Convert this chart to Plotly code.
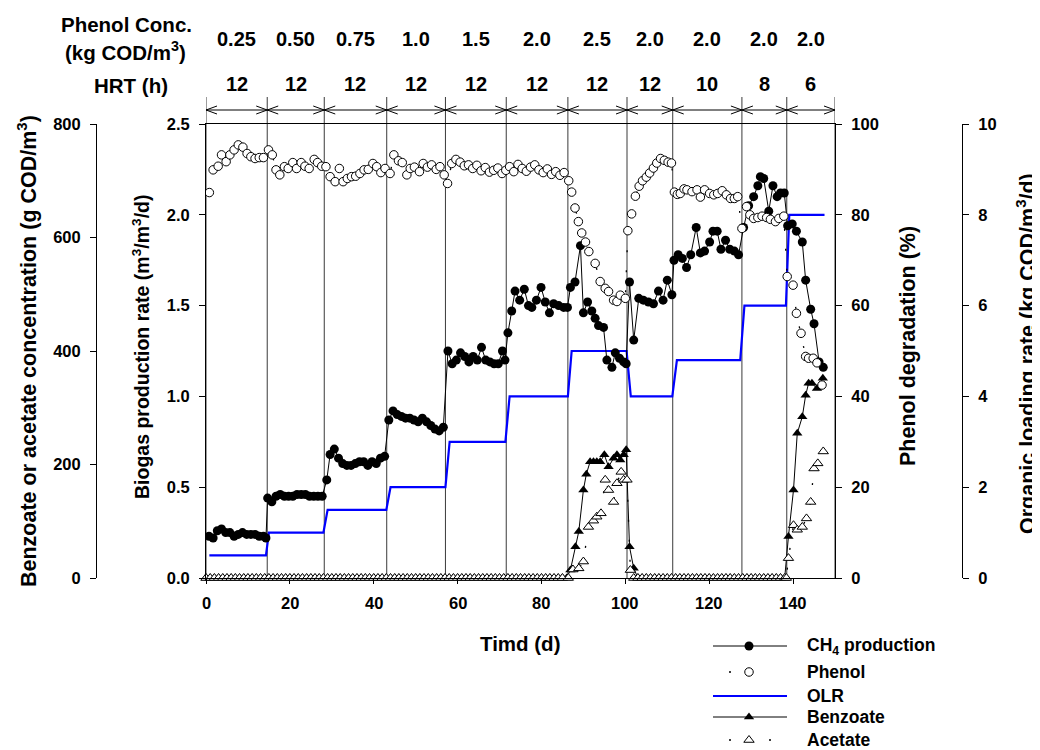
import plotly.graph_objects as go

# ---------------------------------------------------------------- data
phase_bounds = [0, 14.6, 28.2, 43.1, 57.1, 71.6, 86.3, 100.4, 111.3, 127.8, 138.5, 150]
phenol_conc_labels = ["0.25", "0.50", "0.75", "1.0", "1.5", "2.0", "2.5", "2.0", "2.0", "2.0", "2.0"]
hrt_labels = ["12", "12", "12", "12", "12", "12", "12", "12", "10", "8", "6"]
x_ticks = [0, 20, 40, 60, 80, 100, 120, 140]

# CH4 production rate (m3/m3/d)
ch4_days = [0.7, 1.7, 2.7, 3.7, 4.7, 5.7, 6.7, 7.7, 8.7, 9.7, 10.7, 11.7, 12.7, 13.7, 14.3,
            14.7, 15.7, 16.7, 17.7, 18.7, 19.7, 20.7, 21.7, 22.7, 23.7, 24.7, 25.7, 26.7, 27.7,
            28.8, 29.6, 30.6, 31.6, 32.6, 33.6, 34.6, 35.6, 36.6, 37.6, 38.6, 39.6, 40.6, 41.6, 42.6,
            43.6, 44.6, 45.6, 46.6, 47.6, 48.6, 49.6, 50.6, 51.6, 52.6, 53.6, 54.6, 55.6, 56.6,
            57.7, 58.7, 59.7, 60.7, 61.7, 62.7, 63.7, 64.7, 65.7, 66.7, 67.7, 68.7, 69.7, 70.7, 71.3,
            72.0, 72.9, 73.7, 74.8, 75.9, 76.9, 77.7, 78.8, 79.9, 80.9, 81.9, 82.9, 84.1, 85.3, 86.2,
            86.9, 88.0, 89.3, 90.0, 91.0, 92.0, 92.8, 93.6, 94.8, 95.6, 96.8, 97.6, 98.6, 99.6, 100.2,
            101.0, 102.0, 103.2, 104.3, 105.5, 106.7, 107.9, 109.0, 110.0, 111.1,
            111.6, 112.6, 113.6, 114.6, 115.6, 116.9, 117.9, 118.9, 120.1, 120.9, 121.9, 122.8, 123.9,
            124.9, 126.0, 127.0,
            128.2, 129.4, 130.6, 131.6, 132.2, 133.0, 134.2, 135.2, 136.2, 137.0, 137.9,
            138.7, 139.8, 140.8, 142.2, 143.0, 144.2, 145.0, 146.2, 147.2]
ch4_rate = [0.23, 0.22, 0.26, 0.27, 0.25, 0.25, 0.23, 0.24, 0.25, 0.24, 0.24, 0.24, 0.23, 0.23, 0.22,
            0.44, 0.42, 0.45, 0.46, 0.45, 0.45, 0.45, 0.46, 0.46, 0.46, 0.45, 0.45, 0.45, 0.45,
            0.54, 0.68, 0.71, 0.66, 0.63, 0.62, 0.62, 0.63, 0.64, 0.64, 0.62, 0.64, 0.63, 0.66, 0.67,
            0.87, 0.92, 0.90, 0.89, 0.88, 0.88, 0.87, 0.86, 0.88, 0.86, 0.84, 0.82, 0.81, 0.83,
            1.25, 1.18, 1.20, 1.24, 1.22, 1.19, 1.22, 1.20, 1.27, 1.20, 1.19, 1.18, 1.18, 1.25, 1.20,
            1.35, 1.47, 1.58, 1.53, 1.59, 1.50, 1.49, 1.53, 1.60, 1.52, 1.46, 1.51, 1.50, 1.49, 1.49,
            1.60, 1.63, 1.83, 1.46, 1.52, 1.47, 1.43, 1.39, 1.38, 1.20, 1.16, 1.24, 1.21, 1.19, 1.18,
            1.63, 1.31, 1.54, 1.53, 1.52, 1.51, 1.58, 1.53, 1.64, 1.56,
            1.75, 1.78, 1.76, 1.71, 1.78, 1.93, 1.79, 1.80, 1.85, 1.91, 1.91, 1.81, 1.86,
            1.81, 1.80, 1.78,
            1.93, 2.05, 2.10, 2.16, 2.21, 2.20, 2.02, 2.16, 2.10, 2.12, 2.12,
            1.94, 1.95, 1.91, 1.85, 1.64, 1.48, 1.40, 1.19, 1.16]

# Phenol degradation (%)
phenol_days = [0.8, 1.7, 2.9, 3.7, 4.8, 5.7, 6.7, 7.7, 8.8, 9.8, 10.7, 11.7, 12.7, 13.7, 14.9, 15.8,
               16.7, 17.6, 18.7, 19.6, 20.7, 21.6, 22.7, 23.6, 24.6, 25.8, 26.6, 27.6, 28.6,
               29.6, 30.8, 31.8, 32.7, 33.7, 34.7, 35.7, 36.7, 37.7, 38.7, 39.8, 40.7, 41.7, 42.7, 43.9,
               44.8, 45.9, 46.8, 47.9, 48.7, 49.7, 50.9, 51.8, 52.8, 53.8, 54.9, 55.8, 56.8, 57.6,
               58.6, 59.6, 60.6, 61.6, 62.6, 63.6, 64.6, 65.6, 66.6, 67.6, 68.6, 69.6, 70.6, 71.5,
               72.4, 73.4, 74.4, 75.4, 76.4, 77.4, 78.4, 79.4, 80.4, 81.4, 82.4, 83.4, 84.4, 85.4,
               86.5, 87.2, 88.0, 88.8, 89.6, 90.5, 91.3, 92.8, 94.0, 95.2, 96.0, 97.2, 98.0, 98.8, 100.0,
               100.6, 101.5, 102.4, 103.3, 104.1, 105.0, 105.8, 106.7, 107.5, 108.4, 109.3, 110.2, 111.0,
               111.7, 112.4, 113.1, 114.0, 114.7, 115.9, 117.1, 117.9, 118.9, 120.1, 121.1, 122.0,
               123.1, 124.1, 125.1, 126.0, 126.8, 127.8,
               128.9, 129.7, 130.6, 131.6, 132.6, 133.7, 134.6, 135.8, 136.6, 137.8,
               138.6, 140.0, 140.8, 141.9, 143.0, 143.7, 144.8, 145.7, 146.9]
phenol_pct = [84.9, 89.9, 90.7, 93.2, 91.7, 93.2, 94.3, 95.4, 94.9, 93.5, 92.8, 92.4, 92.6, 92.6, 94.3, 93.2,
              89.9, 88.8, 90.6, 90.2, 91.5, 90.2, 91.5, 90.7, 90.2, 92.2, 91.5, 90.7, 90.6,
              88.4, 87.3, 90.2, 87.3, 88.0, 88.4, 88.5, 89.1, 89.9, 90.0, 91.3, 90.6, 89.3, 90.2, 89.1,
              93.2, 91.9, 91.5, 88.8, 90.2, 90.5, 89.5, 91.3, 90.5, 91.0, 90.0, 90.6, 88.8, 86.9,
              91.3, 92.2, 91.6, 90.8, 91.0, 90.2, 90.9, 89.7, 90.4, 89.4, 89.8, 90.3, 89.1, 89.8,
              90.6, 89.5, 91.1, 90.2, 89.6, 90.5, 91.0, 89.9, 89.3, 90.1, 88.9, 89.5, 88.7, 89.3,
              87.5, 85.0, 81.5, 78.5, 76.0, 74.0, 71.9, 69.3, 65.3, 63.8, 63.1, 61.2, 60.9, 62.3, 61.6,
              76.5, 80.2, 84.1, 86.3, 87.5, 88.3, 89.2, 90.3, 91.4, 92.4, 92.0, 91.6, 91.4,
              85.0, 84.5, 84.7, 85.7, 85.5, 85.1, 85.5, 83.9, 85.5, 84.7, 84.4, 84.7,
              85.3, 84.4, 83.6, 83.6, 84.0, 77.0,
              81.8, 80.0, 79.2, 79.4, 79.7, 79.4, 79.0, 78.5, 79.2, 79.7,
              66.4, 64.5, 58.3, 53.9, 48.8, 48.4, 48.4, 47.4, 42.5]

# Organic loading rate (kg COD/m3/d)
olr_days = [0.8, 14.3, 15.0, 28.0, 29.0, 43.0, 44.0, 57.1, 58.1, 71.4, 72.4, 86.3, 87.2, 100.3,
            101.3, 111.2, 112.3, 127.4, 128.4, 138.3, 139.1, 147.5]
olr_vals = [0.5, 0.5, 1.0, 1.0, 1.5, 1.5, 2.0, 2.0, 3.0, 3.0, 4.0, 4.0, 5.0, 5.0,
            4.0, 4.0, 4.8, 4.8, 6.0, 6.0, 8.0, 8.0]

# Benzoate (g COD/m3): zero on every sampling day of the runs shown by the hatched strip
benz_days = (list(range(0, 87))
             + [86.9, 88.1, 88.9, 90.0, 90.7, 91.6, 92.4, 93.2, 94.0, 95.0, 96.0, 97.2, 98.0, 98.8,
                99.6, 100.2, 101.0, 102.0]
             + list(range(103, 139))
             + [138.9, 140.1, 141.0, 142.2, 143.0, 143.7, 144.5, 145.7, 147.1])
benz_vals = ([0] * 87
             + [14, 55, 82, 155, 183, 205, 205, 205, 205, 217, 196, 211, 217, 208, 217, 226, 55, 17]
             + [0] * 36
             + [73, 155, 255, 284, 322, 343, 343, 334, 352])

# Acetate (g COD/m3)
acet_days = (list(range(0, 86)) + [86.4]
             + [87.5, 88.9, 90.0, 91.2, 92.4, 93.2, 94.2, 95.2, 96.0, 97.2, 98.0, 99.0, 99.6, 100.4, 101.2]
             + list(range(102, 139)) + [138.4]
             + [138.9, 140.1, 141.0, 142.2, 143.2, 144.2, 145.0, 145.9, 147.2])
acet_vals = ([0] * 86 + [0]
             + [15, 17, 29, 90, 101, 108, 114, 173, 155, 134, 167, 187, 173, 173, 14]
             + [0] * 37 + [0]
             + [35, 93, 85, 90, 105, 134, 193, 202, 223])

# ---------------------------------------------------------------- layout helpers
# The page body has an 8 px margin, so the figure is 1032 x 742 and every
# layout position below is given in window pixels and converted here.
OFF = 8
W, H = 1032, 742
def fx(px):
    return (px - OFF) / W
def fy(py):
    return (H + OFF - py) / H

PL, PR, PT, PB = 206, 835, 124, 578
DOM_X = [fx(PL), fx(PR)]
DOM_Y = [fy(PB), fy(PT)]
FAM = "Liberation Sans, Arial, Helvetica, sans-serif"
TICKFONT = dict(family=FAM, size=16.5, color="black", weight="bold")

def yax(**kw):
    d = dict(domain=DOM_Y, showline=True, linecolor="black", linewidth=1, ticks="outside",
             ticklen=6, tickwidth=1, tickcolor="black", showgrid=False, zeroline=False,
             tickfont=TICKFONT, fixedrange=True, automargin=False, ticklabelstandoff=6)
    d.update(kw)
    return d

fig = go.Figure()

# OLR (base axis, drawn first)
fig.add_trace(go.Scatter(x=olr_days, y=olr_vals, yaxis="y", mode="lines",
                         line=dict(color="#0000ff", width=2.2), showlegend=False))
# CH4
fig.add_trace(go.Scatter(x=ch4_days, y=ch4_rate, yaxis="y2", mode="lines+markers",
                         line=dict(color="black", width=1),
                         marker=dict(symbol="circle", size=9, color="black"), showlegend=False))
# Benzoate
fig.add_trace(go.Scatter(x=benz_days, y=benz_vals, yaxis="y3", mode="lines+markers",
                         line=dict(color="black", width=1), cliponaxis=False,
                         marker=dict(symbol="triangle-up", size=9, color="black"), showlegend=False))
# Acetate
fig.add_trace(go.Scatter(x=acet_days, y=acet_vals, yaxis="y3", mode="lines+markers",
                         line=dict(color="black", width=1.3, dash="2px,18px"), cliponaxis=False,
                         marker=dict(symbol="triangle-up", size=9, color="white",
                                     line=dict(color="black", width=1)), showlegend=False))
# Phenol
fig.add_trace(go.Scatter(x=phenol_days, y=phenol_pct, yaxis="y4", mode="lines+markers",
                         line=dict(color="black", width=1.3, dash="2px,18px"),
                         marker=dict(symbol="circle", size=8.5, color="white",
                                     line=dict(color="black", width=1)), showlegend=False))

# ---------------------------------------------------------------- manual legend
LEG_X0, LEG_XM, LEG_X1, LEG_TX = 713, 749, 787, 805
legend_items = [
    dict(text="CH<sub>4</sub> production", y=646, line=dict(color="black", width=1), span=(LEG_X0, LEG_X1),
         marker=dict(symbol="circle", size=9, color="black")),
    dict(text="Phenol", y=672, line=dict(color="black", width=1.3, dash="2px,18px"), span=(729, 752),
         marker=dict(symbol="circle", size=8.5, color="white", line=dict(color="black", width=1))),
    dict(text="OLR", y=696, line=dict(color="#0000ff", width=2.2), span=(LEG_X0, LEG_X1), marker=None),
    dict(text="Benzoate", y=717, line=dict(color="black", width=1), span=(LEG_X0, LEG_X1),
         marker=dict(symbol="triangle-up", size=9, color="black")),
    dict(text="Acetate", y=740, line=dict(color="black", width=1.3, dash="2px,18px"), span=(729, 772),
         marker=dict(symbol="triangle-up", size=9, color="white", line=dict(color="black", width=1))),
]
annotations = []
for it in legend_items:
    fig.add_trace(go.Scatter(x=list(it["span"]), y=[it["y"], it["y"]], xaxis="x2", yaxis="y5",
                             mode="lines", line=it["line"], showlegend=False, hoverinfo="skip"))
    if it["marker"] is not None:
        fig.add_trace(go.Scatter(x=[LEG_XM], y=[it["y"]], xaxis="x2", yaxis="y5", mode="markers",
                                 marker=it["marker"], showlegend=False, hoverinfo="skip"))
    annotations.append(dict(text=it["text"], x=fx(LEG_TX), y=fy(it["y"]), xref="paper", yref="paper",
                            xanchor="left", yanchor="middle", showarrow=False,
                            font=dict(family=FAM, size=17.5, color="black", weight="bold")))

# ---------------------------------------------------------------- text labels
def txt(text, px, py, size, angle=0, xanchor="center"):
    return dict(text=text, x=fx(px), y=fy(py), xref="paper", yref="paper", xanchor=xanchor,
                yanchor="middle", showarrow=False, textangle=angle,
                font=dict(family=FAM, size=size, color="black", weight="bold"))

annotations += [
    txt("Phenol Conc.", 126, 24, 20.5),
    txt("(kg COD/m<sup>3</sup>)", 125, 51, 20.5),
    txt("HRT (h)", 131, 86, 20.5),
    txt("Timd (d)", 520, 643, 20.5),
    txt("Biogas production rate (m<sup>3</sup>/m<sup>3</sup>/d)", 141, 347, 19.5, -90),
    txt("Benzoate or acetate concentration (g COD/m<sup>3</sup>)", 27, 351, 21.5, -90),
    txt("Phenol degradation (%)", 908, 346, 21.5, -90),
    txt("Organic loading rate (kg COD/m<sup>3</sup>/d)", 1026, 354, 21.5, -90),
]
# x tick labels, placed at the tick values
for t in x_ticks:
    annotations.append(dict(text=str(t), x=t, y=fy(603), xref="x", yref="paper", xanchor="center",
                            yanchor="middle", showarrow=False, font=TICKFONT))
for i, (c, h) in enumerate(zip(phenol_conc_labels, hrt_labels)):
    mid = (phase_bounds[i] + phase_bounds[i + 1]) / 2
    for lab, py in ((c, 39), (h, 84)):
        annotations.append(dict(text=lab, x=mid, y=fy(py), xref="x", yref="paper", xanchor="center",
                                yanchor="middle", showarrow=False,
                                font=dict(family=FAM, size=20, color="black", weight="bold")))

# ---------------------------------------------------------------- phase separators & arrows
shapes = []
ARROW_Y = fy(110)
SEP_TOP = fy(97)
shapes.append(dict(type="line", xref="x", yref="paper", x0=phase_bounds[0], x1=phase_bounds[-1],
                   y0=ARROW_Y, y1=ARROW_Y, line=dict(color="black", width=1)))
for j, b in enumerate(phase_bounds):
    shapes.append(dict(type="line", xref="x", yref="paper", x0=b, x1=b, y0=fy(PB), y1=SEP_TOP,
                       line=dict(color="#3a3a3a", width=1), layer="below"))
    if j > 0:   # arrow head of the previous phase, pointing right
        shapes.append(dict(type="path", xref="x", yref="paper", xsizemode="pixel", ysizemode="pixel",
                           xanchor=b, yanchor=ARROW_Y, path="M-11,4 L0,0 L-11,-4",
                           line=dict(color="black", width=1)))
    if j < len(phase_bounds) - 1:   # arrow head of the next phase, pointing left
        shapes.append(dict(type="path", xref="x", yref="paper", xsizemode="pixel", ysizemode="pixel",
                           xanchor=b, yanchor=ARROW_Y, path="M11,4 L0,0 L11,-4",
                           line=dict(color="black", width=1)))

fig.update_layout(
    template="none",
    width=W, height=H, autosize=False,
    margin=dict(l=0, r=0, t=0, b=0, pad=0, autoexpand=False),
    paper_bgcolor="white", plot_bgcolor="rgba(0,0,0,0)",
    font=dict(family=FAM, color="black"),
    showlegend=False,
    xaxis=dict(domain=DOM_X, range=[0, 150], anchor="y", showline=True, mirror=True,
               linecolor="black", linewidth=1, ticks="outside", ticklen=5, tickwidth=1,
               tickcolor="black", tickvals=x_ticks, showticklabels=False, showgrid=False,
               zeroline=False, fixedrange=True, automargin=False),
    yaxis=yax(range=[0, 10], tickvals=[0, 2, 4, 6, 8, 10], anchor="free", position=fx(962), side="right"),
    yaxis2=yax(range=[0, 2.5], tickvals=[0, 0.5, 1.0, 1.5, 2.0, 2.5], tickformat=".1f",
               anchor="x", side="left", overlaying="y"),
    yaxis3=yax(range=[0, 800], tickvals=[0, 200, 400, 600, 800], anchor="free", position=fx(96),
               side="left", overlaying="y"),
    yaxis4=yax(range=[0, 100], tickvals=[0, 20, 40, 60, 80, 100], anchor="x", side="right",
               overlaying="y"),
    xaxis2=dict(domain=[0, 1], range=[OFF, OFF + W], visible=False, anchor="y5", fixedrange=True,
                automargin=False),
    yaxis5=dict(domain=[0, 1], range=[OFF + H, OFF], visible=False, anchor="x2", fixedrange=True,
                automargin=False),
    annotations=annotations,
    shapes=shapes,
)

fig.write_html("out.html")
